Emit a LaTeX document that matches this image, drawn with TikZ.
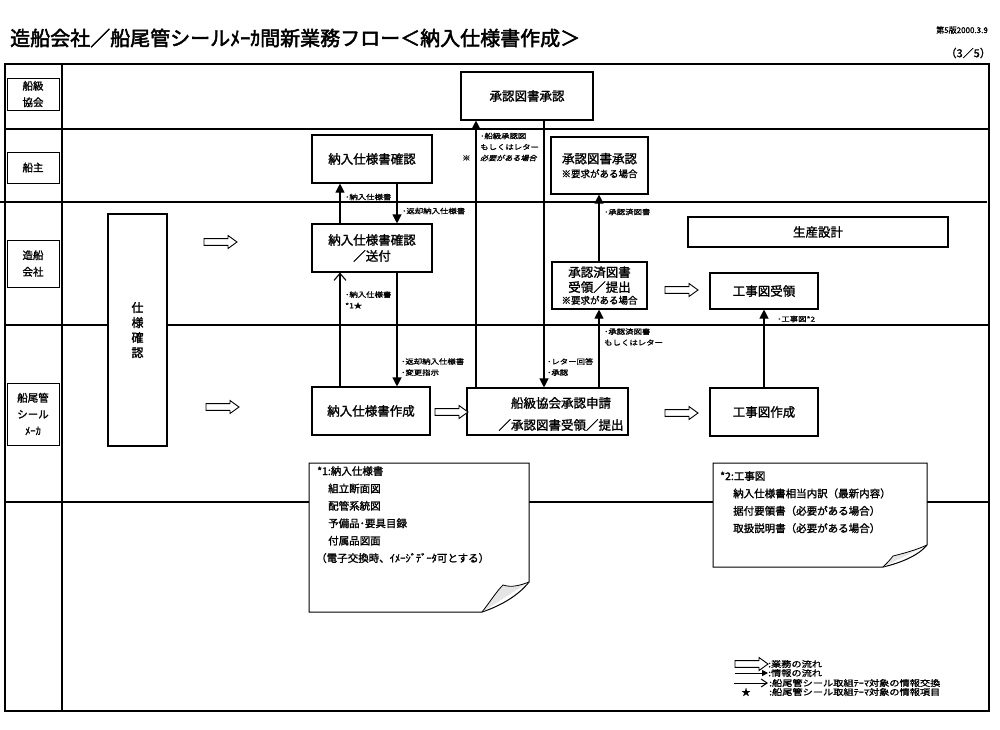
\documentclass[tikz,border=0pt]{standalone}
\usepackage{fontspec}
\setmainfont{Noto Sans CJK JP}[FakeBold=1.4]
\newfontfamily\titlefont[FakeBold=2.4]{Noto Sans CJK JP}
\newfontfamily\slantfont[FakeSlant=0.25,FakeBold=1.2,FakeStretch=1.15]{Noto Sans CJK JP}
\newfontfamily\widefont[FakeBold=1.2,FakeStretch=1.2]{Noto Sans CJK JP}
\usetikzlibrary{arrows.meta}
\tikzset{
  barrow/.pic={\draw[line width=0.9pt, fill=white] (0,-3.4) -- (24,-3.4) -- (24,-6.5) -- (33,0) -- (24,6.5) -- (24,3.4) -- (0,3.4) -- cycle;},
}
\begin{document}
\begin{tikzpicture}[x=1pt,y=-1pt,
  frame/.style={line width=1.3pt},
  lane/.style={line width=1.1pt},
  pbox/.style={draw, line width=1.1pt, fill=white, inner sep=0pt, align=center, font=\fontsize{12.5}{16}\selectfont},
  lbox/.style={draw, line width=1pt, fill=white, inner sep=0pt, align=center, font=\fontsize{10.5}{16.5}\selectfont},
  info/.style={line width=1.1pt, -{Triangle[length=9pt,width=9pt]}},
  xinfo/.style={line width=1.1pt, -{Straight Barb[length=7pt,width=12pt,line width=1.1pt]}},
  lab/.style={anchor=west, inner sep=0pt, align=left, font=\widefont\fontsize{7}{11}\selectfont},
  note/.style={line width=1pt, fill=white},
  flap/.style={line width=0.8pt, fill=gray!20},
  ntext/.style={anchor=north west, inner sep=0pt, align=left, font=\fontsize{10.5}{17.4}\selectfont},
  legt/.style={anchor=west, inner sep=0pt, font=\widefont\fontsize{8.5}{9}\selectfont},
]
\useasboundingbox (0,0) rectangle (1000,729);

% title
\node[anchor=west, inner sep=0pt, font=\titlefont\fontsize{20}{20}\selectfont] (title) at (10,38) {造船会社／船尾管シールﾒｰｶ間新業務フロー＜納入仕様書作成＞};
\node[anchor=east, inner sep=0pt, font=\fontsize{8}{8}\selectfont] (ver) at (988,30) {第5版2000.3.9};
\node[anchor=east, inner sep=0pt, font=\fontsize{11}{11}\selectfont] (page) at (991,53) {（3／5）};

% frame and lanes
\draw[frame] (5,64) rectangle (989,711);
\draw[frame] (62,64) -- (62,711);
\draw[lane] (5,129) -- (989,129);
\draw[lane] (0,202) -- (987,202);
\draw[lane] (5,325) -- (989,325);
\draw[lane] (5,502) -- (989,502);

% lane labels
\node[lbox, minimum width=52, minimum height=32] (L1) at (33,94) {船級\\協会};
\node[lbox, minimum width=52, minimum height=31] (L2) at (33,167.5) {船主};
\node[lbox, minimum width=52, minimum height=47] (L3) at (33,263.5) {造船\\会社};
\node[lbox, minimum width=52, minimum height=62] (L4) at (33,414) {船尾管\\シール\\ﾒｰｶ};

% spec check tall box
\node[pbox, minimum width=59, minimum height=232, font=\fontsize{12}{15}\selectfont] (S) at (137.5,330) {仕\\様\\確\\認};

% process boxes
\node[pbox, minimum width=132, minimum height=48] (A) at (527,96) {承認図書承認};
\node[pbox, minimum width=120, minimum height=48] (B) at (372,159) {納入仕様書確認};
\node[pbox, minimum width=120, minimum height=48] (C) at (372,248) {納入仕様書確認\\／送付};
\node[pbox, minimum width=97, minimum height=57] (D) at (599.5,165.5) {承認図書承認\\[-2pt]{\fontsize{9.5}{12}\selectfont ※要求がある場合}};
\node[pbox, minimum width=95, minimum height=47, font=\fontsize{12.5}{15}\selectfont] (E) at (599.5,285.5) {承認済図書\\受領／提出\\[-3pt]{\fontsize{9.5}{11}\selectfont ※要求がある場合}};
\node[pbox, minimum width=260, minimum height=30] (F) at (818,232) {生産設計};
\node[pbox, minimum width=108, minimum height=36] (G) at (764,291) {工事図受領};
\node[pbox, minimum width=108, minimum height=48] (H) at (764,412) {工事図作成};
\node[pbox, minimum width=161, minimum height=47] (I) at (547.5,411.5) {};
\node[align=center, inner sep=0pt, font=\fontsize{12.5}{22}\selectfont] (Itext) at (561,414) {船級協会承認申請\\／承認図書受領／提出};
\node[pbox, minimum width=118, minimum height=48] (J) at (371,411) {納入仕様書作成};

% columns for vertical connectors
\coordinate (xa) at (340,0);
\coordinate (xb) at (397,0);
\coordinate (xc) at (476,0);
\coordinate (xd) at (544,0);
\coordinate (xe) at (599,0);
\coordinate (xf) at (764,0);

\draw[info] (C.north -| xa) -- (B.south -| xa);
\draw[info] (B.south -| xb) -- (C.north -| xb);
\draw[xinfo] (J.north -| xa) -- (C.south -| xa);
\draw[info] (C.south -| xb) -- (J.north -| xb);
\draw[info] (I.north -| xc) -- (A.south -| xc);
\draw[info] (A.south -| xd) -- (I.north -| xd);
\draw[info] (E.north -| xe) -- (D.south -| xe);
\draw[info] (I.north -| xe) -- (E.south -| xe);
\draw[info] (H.north -| xf) -- (G.south -| xf);

% connector labels
\node[lab] (l1) at (345,197) {･納入仕様書};
\node[lab] (l2) at (402,211) {･返却納入仕様書};
\node[lab] (l3) at (345,300) {･納入仕様書\\*1★};
\node[lab] (l4) at (401,367) {･返却納入仕様書\\･変更指示};
\node[lab] (l5) at (480,147) {･船級承認図\\もしくはレター\\{\slantfont 必要がある場合}};
\node[lab] (l5b) at (462,158) {※};
\node[lab] (l6) at (547,367) {･レター回答\\･承認};
\node[lab] (l7) at (604,212) {･承認済図書};
\node[lab] (l8) at (604,337) {･承認済図書\\もしくはレター};
\node[lab] (l9) at (777,319) {･工事図*2};

% business-flow block arrows
\pic at (204,242) {barrow};
\pic at (206,407) {barrow};
\pic at (435,412) {barrow};
\pic at (665,290) {barrow};
\pic at (665,413) {barrow};

% note 1
\draw[note] (309,463) -- (529,463) -- (529,582) .. controls (518,596) and (500,606) .. (482,612) -- (309,612) -- cycle;
\draw[flap] (482,612) .. controls (490,602) and (496,592) .. (503,585) .. controls (512,588) and (521,585) .. (529,582);
\node[ntext] (n1) at (316,466) {\hspace*{1pt}*1:納入仕様書\\\hspace*{12pt}組立断面図\\\hspace*{12pt}配管系統図\\\hspace*{12pt}予備品･要具目録\\\hspace*{12pt}付属品図面\\（電子交換時、ｲﾒｰｼﾞﾃﾞｰﾀ可とする）};

% note 2
\draw[note] (713,463) -- (927,463) -- (927,545) .. controls (918,556) and (900,563) .. (883,567) -- (713,567) -- cycle;
\draw[flap] (883,567) .. controls (887,563) and (890,560) .. (893,556) .. controls (905,553) and (916,550) .. (927,545);
\node[ntext] (n2) at (720,471) {*2:工事図\\\hspace*{13pt}納入仕様書相当内訳（最新内容）\\\hspace*{13pt}据付要領書（必要がある場合）\\\hspace*{13pt}取扱説明書（必要がある場合）};

% legend
\pic at (735,664) {barrow};
\node[legt] (g1) at (768,664) {:業務の流れ};
\coordinate (g2a) at (735,673);
\coordinate (g2b) at (768,673);
\draw[line width=1pt, -{Triangle[length=6pt,width=6pt]}] (g2a) -- (g2b);
\node[legt] (g2) at (768,673) {:情報の流れ};
\coordinate (g3a) at (734,683);
\coordinate (g3b) at (768,683);
\draw[line width=1pt, -{Straight Barb[length=6pt,width=8pt,line width=1pt]}] (g3a) -- (g3b);
\node[legt] (g3) at (769,683) {:船尾管シール取組ﾃｰﾏ対象の情報交換};
\node[inner sep=0pt, font=\fontsize{9}{9}\selectfont] (g4s) at (746,692) {★};
\node[legt] (g4) at (769,692) {:船尾管シール取組ﾃｰﾏ対象の情報項目};
\end{tikzpicture}
\end{document}
